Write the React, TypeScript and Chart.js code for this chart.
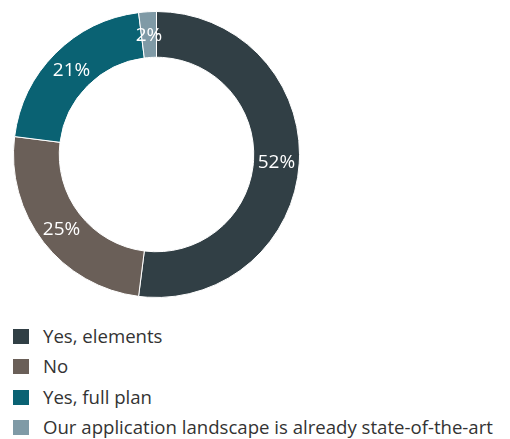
import React, { useEffect, useRef } from "react";
import { Chart, registerables } from "chart.js";

Chart.register(...registerables);

const categories = [
  "Yes, elements",
  "No",
  "Yes, full plan",
  "Our application landscape is already state-of-the-art",
];
const values = [52, 25, 21, 2];
const colors = ["#313f45", "#6a5f58", "#0a6273", "#7f9aa6"];

const FONT = "'Open Sans', 'Noto Sans', sans-serif";

const labelPlugin = {
  id: "sliceLabels",
  afterDatasetsDraw(chart: any) {
    const ctx = chart.ctx;
    const meta = chart.getDatasetMeta(0);
    const data = chart.data.datasets[0].data as number[];
    ctx.save();
    ctx.fillStyle = "#ffffff";
    ctx.font = `19px ${FONT}`;
    ctx.textAlign = "center";
    ctx.textBaseline = "middle";
    meta.data.forEach((arc: any, i: number) => {
      const { x, y, startAngle, endAngle, innerRadius, outerRadius } = arc.getProps(
        ["x", "y", "startAngle", "endAngle", "innerRadius", "outerRadius"],
        true
      );
      const a = (startAngle + endAngle) / 2;
      const r = (innerRadius + outerRadius) / 2;
      ctx.fillText(`${data[i]}%`, x + Math.cos(a) * r, y + Math.sin(a) * r + 1);
    });
    ctx.restore();
  },
};

export default function App() {
  const ref = useRef<HTMLCanvasElement>(null);
  useEffect(() => {
    if (!ref.current) return;
    const chart = new Chart(ref.current, {
      type: "doughnut",
      data: {
        labels: categories,
        datasets: [
          {
            data: values,
            backgroundColor: colors,
            borderColor: "#ffffff",
            borderWidth: 1,
          },
        ],
      },
      options: {
        animation: false,
        responsive: true,
        maintainAspectRatio: false,
        cutout: "68%",
        layout: { padding: 0 },
        plugins: {
          legend: { display: false },
          tooltip: { enabled: false },
        },
      },
      plugins: [labelPlugin],
    });
    return () => chart.destroy();
  }, []);

  return (
    <div
      style={{
        position: "absolute",
        left: 0,
        top: 0,
        width: 510,
        height: 439,
        background: "#ffffff",
        fontFamily: FONT,
      }}
    >
      <div style={{ position: "absolute", left: 13, top: 11, width: 287, height: 287 }}>
        <canvas ref={ref} />
      </div>
      <div style={{ position: "absolute", left: 13, top: 321 }}>
        {categories.map((c, i) => (
          <div
            key={c}
            style={{
              position: "relative",
              height: 30.4,
              whiteSpace: "nowrap",
            }}
          >
            <div
              style={{
                position: "absolute",
                left: 0,
                top: 8,
                width: 16,
                height: 15,
                background: colors[i],
              }}
            />
            <span
              style={{
                position: "absolute",
                left: 30,
                top: 2,
                fontSize: 18.6,
                lineHeight: "25px",
                color: "#333333",
              }}
            >
              {c}
            </span>
          </div>
        ))}
      </div>
    </div>
  );
}
